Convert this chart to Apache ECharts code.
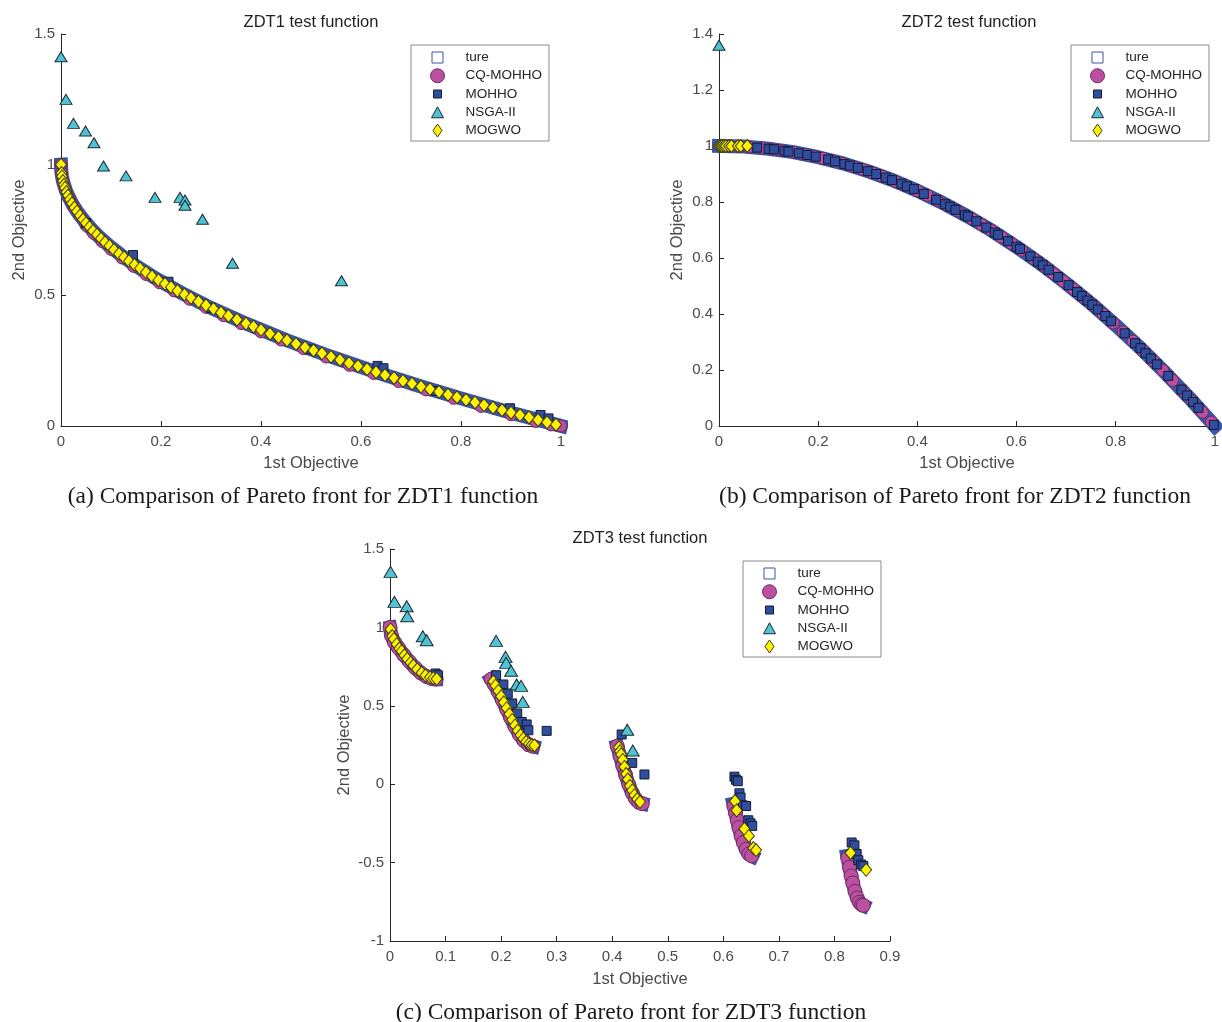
<!DOCTYPE html>
<html>
<head>
<meta charset="utf-8">
<title>Pareto fronts ZDT1 - ZDT3</title>
<script src="https://cdn.jsdelivr.net/npm/echarts/dist/echarts.min.js"></script>
<style>
  html, body { margin: 0; padding: 0; background: #fff; }
  #chart { width: 1222px; height: 1022px; }
</style>
</head>
<body>
<div id="chart"></div>
<script>
// ------------------------- data -------------------------
// ZDT1
var zdt1TureX = [0, 0.0005, 0.002, 0.005, 0.01, 0.016, 0.024, 0.034, 0.046, 0.06, 0.076, 0.095, 0.12, 0.15, 0.19, 0.24, 0.3, 0.37, 0.45, 0.54, 0.63, 0.72, 0.81, 0.9, 1];
var zdt1TureY = [1, 0.978, 0.955, 0.929, 0.9, 0.874, 0.845, 0.816, 0.786, 0.755, 0.724, 0.692, 0.654, 0.613, 0.564, 0.51, 0.452, 0.392, 0.329, 0.265, 0.206, 0.151, 0.1, 0.051, 0];

var zdt1CqX = [0, 0.001, 0.004, 0.009, 0.017, 0.027, 0.038, 0.05, 0.065, 0.082, 0.1, 0.122, 0.145, 0.17, 0.197, 0.226, 0.257, 0.29, 0.325, 0.36, 0.4, 0.44, 0.485, 0.53, 0.577, 0.625, 0.675, 0.73, 0.785, 0.84, 0.9, 0.95, 0.98, 1];
var zdt1CqY = [1, 0.968, 0.937, 0.905, 0.87, 0.836, 0.805, 0.768, 0.737, 0.706, 0.676, 0.643, 0.611, 0.58, 0.548, 0.517, 0.485, 0.454, 0.422, 0.392, 0.36, 0.329, 0.296, 0.264, 0.232, 0.201, 0.17, 0.138, 0.106, 0.075, 0.043, 0.017, 0.004, 0];

var zdt1MohhoX = [0.05, 0.144, 0.215, 0.3, 0.5, 0.633, 0.645, 0.75, 0.898, 0.959, 0.975];
var zdt1MohhoY = [0.776, 0.654, 0.552, 0.452, 0.293, 0.23, 0.221, 0.134, 0.068, 0.042, 0.029];

var zdt1NsgaX = [0, 0.01, 0.025, 0.049, 0.066, 0.085, 0.13, 0.188, 0.238, 0.248, 0.248, 0.283, 0.343, 0.561];
var zdt1NsgaY = [1.413, 1.25, 1.158, 1.129, 1.084, 0.995, 0.957, 0.875, 0.875, 0.865, 0.845, 0.791, 0.623, 0.556];

var zdt1MogwoX = [0, 0.001, 0.002, 0.004, 0.006, 0.008, 0.011, 0.014, 0.018, 0.022,
  0.027, 0.032, 0.038, 0.044, 0.05, 0.057, 0.064, 0.072, 0.08, 0.088,
  0.097, 0.106, 0.116, 0.126, 0.136, 0.147, 0.158, 0.17, 0.182, 0.195,
  0.208, 0.22, 0.233, 0.247, 0.26, 0.275, 0.29, 0.305, 0.32, 0.335,
  0.352, 0.37, 0.385, 0.4, 0.418, 0.435, 0.452, 0.47, 0.488, 0.505,
  0.522, 0.54, 0.558, 0.576, 0.594, 0.612, 0.63, 0.648, 0.666, 0.684,
  0.702, 0.72, 0.738, 0.756, 0.774, 0.792, 0.81, 0.828, 0.846, 0.864,
  0.882, 0.9, 0.918, 0.936, 0.954, 0.972, 0.99];
var zdt1MogwoY = [1, 0.968, 0.955, 0.937, 0.923, 0.911, 0.895, 0.882, 0.866, 0.852,
  0.836, 0.821, 0.805, 0.79, 0.776, 0.761, 0.747, 0.732, 0.717, 0.703,
  0.689, 0.674, 0.659, 0.645, 0.631, 0.617, 0.603, 0.588, 0.573, 0.558,
  0.544, 0.531, 0.517, 0.503, 0.49, 0.476, 0.462, 0.448, 0.434, 0.421,
  0.407, 0.392, 0.38, 0.368, 0.353, 0.34, 0.328, 0.314, 0.301, 0.289,
  0.278, 0.265, 0.253, 0.241, 0.229, 0.218, 0.206, 0.195, 0.184, 0.173,
  0.162, 0.151, 0.141, 0.131, 0.12, 0.11, 0.1, 0.09, 0.08, 0.07,
  0.061, 0.051, 0.042, 0.033, 0.023, 0.014, 0.005];

// ZDT2
var zdt2TureX = [0, 0.05, 0.1, 0.15, 0.2, 0.25, 0.3, 0.35, 0.4, 0.45, 0.5, 0.55, 0.6, 0.65, 0.7, 0.75, 0.8, 0.85, 0.9, 0.95, 1];
var zdt2TureY = [1, 0.998, 0.99, 0.978, 0.96, 0.938, 0.91, 0.878, 0.84, 0.798, 0.75, 0.698, 0.64, 0.578, 0.51, 0.438, 0.36, 0.278, 0.19, 0.098, 0];

var zdt2CqX = [0.005, 0.02, 0.04, 0.06, 0.085, 0.105, 0.125, 0.15, 0.17, 0.19,
  0.21, 0.23, 0.25, 0.27, 0.29, 0.31, 0.33, 0.355, 0.375, 0.4,
  0.42, 0.44, 0.46, 0.48, 0.51, 0.53, 0.55, 0.57, 0.59, 0.61,
  0.635, 0.655, 0.675, 0.695, 0.715, 0.735, 0.755, 0.775, 0.795, 0.815,
  0.835, 0.855, 0.875, 0.895, 0.915, 0.935, 0.955, 0.975, 0.993];
var zdt2CqY = [1, 1, 0.998, 0.996, 0.993, 0.989, 0.984, 0.978, 0.971, 0.964,
  0.956, 0.947, 0.938, 0.927, 0.916, 0.904, 0.891, 0.874, 0.859, 0.84,
  0.824, 0.806, 0.788, 0.77, 0.74, 0.719, 0.698, 0.675, 0.652, 0.628,
  0.597, 0.571, 0.544, 0.517, 0.489, 0.46, 0.43, 0.399, 0.368, 0.336,
  0.303, 0.269, 0.234, 0.199, 0.163, 0.126, 0.088, 0.049, 0.014];

var zdt2MohhoX = [0.077, 0.1, 0.111, 0.132, 0.14, 0.161, 0.178, 0.195, 0.22, 0.234,
  0.253, 0.264, 0.28, 0.3, 0.317, 0.336, 0.349, 0.368, 0.379, 0.393,
  0.413, 0.438, 0.456, 0.466, 0.477, 0.496, 0.502, 0.519, 0.539, 0.556,
  0.563, 0.583, 0.6, 0.607, 0.628, 0.643, 0.653, 0.665, 0.684, 0.705,
  0.722, 0.732, 0.743, 0.753, 0.764, 0.779, 0.791, 0.818, 0.839, 0.85,
  0.86, 0.871, 0.883, 0.906, 0.933, 0.944, 0.956, 0.967, 0.998];
var zdt2MohhoY = [0.994, 0.99, 0.988, 0.983, 0.98, 0.974, 0.968, 0.962, 0.952, 0.945,
  0.936, 0.93, 0.922, 0.91, 0.9, 0.887, 0.878, 0.865, 0.856, 0.846,
  0.829, 0.808, 0.792, 0.783, 0.772, 0.754, 0.748, 0.731, 0.709, 0.691,
  0.683, 0.66, 0.64, 0.632, 0.606, 0.587, 0.574, 0.558, 0.532, 0.503,
  0.479, 0.464, 0.448, 0.433, 0.416, 0.393, 0.374, 0.331, 0.296, 0.278,
  0.26, 0.241, 0.22, 0.179, 0.13, 0.109, 0.086, 0.065, 0.004];

var zdt2NsgaX = [0];
var zdt2NsgaY = [1.36];

var zdt2MogwoX = [0, 0.003, 0.006, 0.01, 0.014, 0.02, 0.025, 0.038, 0.044, 0.057];
var zdt2MogwoY = [1, 1, 1, 1, 1, 1, 1, 1, 1, 1];

// ZDT3 (null splits the five disconnected pieces of the true front)
var zdt3TureX = [0, 0.002, 0.005, 0.01, 0.02, 0.03, 0.04, 0.05, 0.06, 0.07, 0.08, 0.083, null,
  0.182, 0.19, 0.2, 0.21, 0.22, 0.23, 0.24, 0.25, 0.258, null,
  0.409, 0.415, 0.42, 0.425, 0.43, 0.435, 0.44, 0.445, 0.45, 0.454, null,
  0.618, 0.623, 0.628, 0.633, 0.638, 0.643, 0.648, 0.652, null,
  0.823, 0.827, 0.831, 0.835, 0.839, 0.843, 0.847, 0.852];
var zdt3TureY = [1, 0.955, 0.928, 0.897, 0.847, 0.803, 0.762, 0.726, 0.698, 0.679, 0.67, 0.67, null,
  0.669, 0.623, 0.553, 0.477, 0.402, 0.334, 0.282, 0.25, 0.242, null,
  0.243, 0.167, 0.105, 0.048, -0.004, -0.047, -0.082, -0.107, -0.121, -0.124, null,
  -0.124, -0.201, -0.276, -0.341, -0.391, -0.43, -0.452, -0.459, null,
  -0.457, -0.53, -0.599, -0.658, -0.706, -0.741, -0.764, -0.773];

var zdt3CqX = [0, 0.003, 0.008, 0.015, 0.025, 0.035, 0.045, 0.055, 0.065, 0.075, 0.083,
  0.182, 0.188, 0.195, 0.202, 0.21, 0.217, 0.225, 0.233, 0.241, 0.249, 0.257,
  0.409, 0.414, 0.419, 0.424, 0.43, 0.436, 0.442, 0.448, 0.454,
  0.619, 0.622, 0.625, 0.628, 0.632, 0.636, 0.641, 0.646, 0.651,
  0.824, 0.827, 0.83, 0.833, 0.837, 0.841, 0.845, 0.849, 0.852];
var zdt3CqY = [1, 0.945, 0.905, 0.87, 0.824, 0.782, 0.744, 0.711, 0.688, 0.674, 0.67,
  0.669, 0.635, 0.589, 0.538, 0.477, 0.425, 0.367, 0.316, 0.278, 0.252, 0.242,
  0.243, 0.18, 0.117, 0.06, -0.004, -0.055, -0.093, -0.116, -0.124,
  -0.14, -0.185, -0.23, -0.276, -0.33, -0.372, -0.415, -0.445, -0.457,
  -0.47, -0.53, -0.585, -0.63, -0.683, -0.725, -0.753, -0.768, -0.773];

var zdt3MohhoX = [0.082, 0.086,
  0.191, 0.204, 0.212, 0.22, 0.229, 0.237, 0.246, 0.249, 0.282,
  0.417, 0.436, 0.458,
  0.62, 0.623, 0.626, 0.629, 0.631, 0.635, 0.641, 0.645, 0.649, 0.652,
  0.831, 0.836, 0.84, 0.843, 0.848, 0.852];
var zdt3MohhoY = [0.706, 0.695,
  0.695, 0.636, 0.578, 0.515, 0.451, 0.397, 0.381, 0.344, 0.34,
  0.317, 0.136, 0.062,
  0.048, 0.028, 0.019, -0.058, -0.085, -0.135, -0.139, -0.23, -0.25, -0.266,
  -0.372, -0.39, -0.445, -0.485, -0.512, -0.522];

var zdt3NsgaX = [0.001, 0.008, 0.03, 0.031, 0.059, 0.066, 0.191, 0.208, 0.209, 0.218, 0.228, 0.236, 0.239, 0.427, 0.437];
var zdt3NsgaY = [1.354, 1.163, 1.135, 1.071, 0.944, 0.918, 0.914, 0.812, 0.774, 0.723, 0.636, 0.627, 0.525, 0.347, 0.215];

var zdt3MogwoX = [0.001, 0.004, 0.007, 0.012, 0.017, 0.021, 0.026, 0.031, 0.037, 0.042, 0.049, 0.057, 0.064, 0.072, 0.078, 0.084,
  0.186, 0.19, 0.195, 0.2, 0.205, 0.21, 0.215, 0.22, 0.225, 0.23, 0.235, 0.24, 0.245, 0.25, 0.255, 0.26,
  0.412, 0.414, 0.416, 0.419, 0.422, 0.425, 0.428, 0.432, 0.436, 0.44, 0.445, 0.45,
  0.621, 0.624, 0.638, 0.646, 0.654, 0.659,
  0.829, 0.857];
var zdt3MogwoY = [0.987, 0.945, 0.925, 0.893, 0.865, 0.848, 0.822, 0.8, 0.775, 0.757, 0.733, 0.71, 0.694, 0.682, 0.676, 0.672,
  0.655, 0.628, 0.595, 0.56, 0.522, 0.485, 0.447, 0.41, 0.375, 0.342, 0.313, 0.29, 0.27, 0.257, 0.25, 0.247,
  0.235, 0.21, 0.19, 0.155, 0.11, 0.065, 0.03, -0.01, -0.04, -0.07, -0.095, -0.112,
  -0.108, -0.167, -0.285, -0.33, -0.407, -0.42,
  -0.438, -0.546];

var seriesNames = ['ture', 'CQ-MOHHO', 'MOHHO', 'NSGA-II', 'MOGWO'];
var plotTitles = ['ZDT1 test function', 'ZDT2 test function', 'ZDT3 test function'];
var captions = [
  '(a) Comparison of Pareto front for ZDT1 function',
  '(b) Comparison of Pareto front for ZDT2 function',
  '(c) Comparison of Pareto front for ZDT3 function'
];

// ------------------------------- styling ------------------------------------
var SANS = "'Liberation Sans', Arial, sans-serif";
var SERIF = "'Liberation Serif', 'Times New Roman', serif";
var AXIS = '#262626';
var LABEL = '#4a4a4a';
var COLOR = {
  ture   : '#3a55a6',
  cq     : '#bb4fa0', cqEdge    : '#6e2a62',
  mohho  : '#2f4e9f', mohhoEdge : '#151a30',
  nsga   : '#4fc2d4', nsgaEdge  : '#1b2b30',
  mogwo  : '#fff200', mogwoEdge : '#3a3a1a'
};

// ------------------------------- helpers ------------------------------------
function zip(xs, ys) {
  return xs.map(function (x, i) {
    return x === null ? ['-', '-'] : [x, ys[i]];
  });
}

// the true front is so dense in the figure that it reads as a thick band,
// so it is drawn as one wide line under all the markers
function tureSeries(g, xs, ys) {
  return {
    name: 'ture', type: 'line', xAxisIndex: g, yAxisIndex: g, z: 1,
    data: zip(xs, ys), symbol: 'none', showSymbol: false,
    connectNulls: false, clip: false, silent: true,
    lineStyle: { color: COLOR.ture, width: 14, cap: 'square', join: 'round' },
    itemStyle: { color: COLOR.ture }
  };
}

function dotSeries(name, g, xs, ys, symbol, size, fill, edge) {
  return {
    name: name, type: 'scatter', xAxisIndex: g, yAxisIndex: g, z: 3,
    data: zip(xs, ys), symbol: symbol, symbolSize: size,
    clip: false, silent: true,
    itemStyle: { color: fill, borderColor: edge, borderWidth: 1, opacity: 1 }
  };
}

function xAxisFor(g, max, interval, gap) {
  return {
    type: 'value', gridIndex: g, min: 0, max: max, interval: interval,
    name: '1st Objective', nameLocation: 'middle', nameGap: gap,
    nameTextStyle: { color: LABEL, fontSize: 16.5, fontFamily: SANS },
    axisLine: { show: true, onZero: false, lineStyle: { color: AXIS, width: 1 } },
    axisTick: { show: true, inside: true, length: 5, lineStyle: { color: AXIS } },
    axisLabel: { show: true, margin: 8, color: LABEL, fontSize: 15, fontFamily: SANS },
    splitLine: { show: false }
  };
}

function yAxisFor(g, min, max, interval, gap) {
  return {
    type: 'value', gridIndex: g, min: min, max: max, interval: interval,
    name: '2nd Objective', nameLocation: 'middle', nameGap: gap,
    nameTextStyle: { color: LABEL, fontSize: 16.5, fontFamily: SANS },
    axisLine: { show: true, onZero: false, lineStyle: { color: AXIS, width: 1 } },
    axisTick: { show: true, inside: true, length: 5, lineStyle: { color: AXIS } },
    axisLabel: { show: true, margin: 6, color: LABEL, fontSize: 15, fontFamily: SANS },
    splitLine: { show: false }
  };
}

var legendItems = [
  { name: seriesNames[0], icon: 'path://M0 0M14 14M1.5 1.5H12.5V12.5H1.5Z',
    itemStyle: { color: '#fff', borderColor: COLOR.ture, borderWidth: 1 } },
  { name: seriesNames[1], icon: 'circle',
    itemStyle: { color: COLOR.cq, borderColor: COLOR.cqEdge, borderWidth: 1 } },
  { name: seriesNames[2], icon: 'path://M0 0M14 14M3 3H11V11H3Z',
    itemStyle: { color: COLOR.mohho, borderColor: COLOR.mohhoEdge, borderWidth: 1 } },
  { name: seriesNames[3], icon: 'path://M0 0M14 14M7 1.5L13 12.5H1Z',
    itemStyle: { color: COLOR.nsga, borderColor: COLOR.nsgaEdge, borderWidth: 1 } },
  { name: seriesNames[4], icon: 'path://M0 0M14 14M7 0.5L11.5 7L7 13.5L2.5 7Z',
    itemStyle: { color: COLOR.mogwo, borderColor: COLOR.mogwoEdge, borderWidth: 1 } }
];

function legendAt(left, top) {
  return {
    show: true, orient: 'vertical', left: left, top: top,
    padding: [5, 7, 3, 19], itemWidth: 14, itemHeight: 14, itemGap: 3.25,
    backgroundColor: '#fff', borderColor: '#8a8a8a', borderWidth: 1, borderRadius: 0,
    selectedMode: false,
    textStyle: { fontSize: 13.5, fontFamily: SANS, color: '#262626', lineHeight: 14, padding: [0, 0, 0, 16] },
    data: legendItems
  };
}

function titleAt(text, cx, top, style) {
  return { text: text, left: cx, top: top, textAlign: 'center', padding: 0, textStyle: style };
}

// ------------------------------- option -------------------------------------
var titleText = { color: '#1f1f1f', fontSize: 16.5, fontWeight: 'normal', fontFamily: SANS };
var captionText = { color: '#1a1a1a', fontSize: 23.5, fontWeight: 'normal', fontFamily: SERIF };

var option = {
  animation: false,
  backgroundColor: '#fff',
  title: [
    titleAt(plotTitles[0], 311, 14, titleText),
    titleAt(plotTitles[1], 969, 14, titleText),
    titleAt(plotTitles[2], 640, 530, titleText),
    titleAt(captions[0], 303, 485, captionText),
    titleAt(captions[1], 955, 485, captionText),
    titleAt(captions[2], 631, 1001, captionText)
  ],
  legend: [legendAt(411, 45), legendAt(1071, 45), legendAt(743, 561)],
  grid: [
    { left: 61, top: 34, width: 500, height: 392 },
    { left: 719, top: 34, width: 500, height: 392 },
    { left: 390, top: 549, width: 500, height: 392 }
  ],
  xAxis: [xAxisFor(0, 1, 0.2, 29), xAxisFor(1, 1, 0.2, 29), xAxisFor(2, 0.9, 0.1, 30)],
  yAxis: [yAxisFor(0, 0, 1.5, 0.5, 33), yAxisFor(1, 0, 1.4, 0.2, 33), yAxisFor(2, -1, 1.5, 0.5, 37)],
  series: [
    tureSeries(0, zdt1TureX, zdt1TureY),
    dotSeries(seriesNames[1], 0, zdt1CqX, zdt1CqY, 'circle', 12, COLOR.cq, COLOR.cqEdge),
    dotSeries(seriesNames[2], 0, zdt1MohhoX, zdt1MohhoY, 'rect', 9, COLOR.mohho, COLOR.mohhoEdge),
    dotSeries(seriesNames[3], 0, zdt1NsgaX, zdt1NsgaY, 'triangle', [12, 10], COLOR.nsga, COLOR.nsgaEdge),
    dotSeries(seriesNames[4], 0, zdt1MogwoX, zdt1MogwoY, 'diamond', [11, 13], COLOR.mogwo, COLOR.mogwoEdge),

    tureSeries(1, zdt2TureX, zdt2TureY),
    dotSeries(seriesNames[1], 1, zdt2CqX, zdt2CqY, 'circle', 12, COLOR.cq, COLOR.cqEdge),
    dotSeries(seriesNames[2], 1, zdt2MohhoX, zdt2MohhoY, 'rect', 9, COLOR.mohho, COLOR.mohhoEdge),
    dotSeries(seriesNames[3], 1, zdt2NsgaX, zdt2NsgaY, 'triangle', [12, 10], COLOR.nsga, COLOR.nsgaEdge),
    dotSeries(seriesNames[4], 1, zdt2MogwoX, zdt2MogwoY, 'diamond', [11, 13], COLOR.mogwo, COLOR.mogwoEdge),

    tureSeries(2, zdt3TureX, zdt3TureY),
    dotSeries(seriesNames[1], 2, zdt3CqX, zdt3CqY, 'circle', 14, COLOR.cq, COLOR.cqEdge),
    dotSeries(seriesNames[2], 2, zdt3MohhoX, zdt3MohhoY, 'rect', 9, COLOR.mohho, COLOR.mohhoEdge),
    dotSeries(seriesNames[3], 2, zdt3NsgaX, zdt3NsgaY, 'triangle', [13, 11], COLOR.nsga, COLOR.nsgaEdge),
    dotSeries(seriesNames[4], 2, zdt3MogwoX, zdt3MogwoY, 'diamond', [11, 13], COLOR.mogwo, COLOR.mogwoEdge)
  ]
};

var chart = echarts.init(document.getElementById('chart'), null, { renderer: 'canvas' });
chart.setOption(option);
</script>
</body>
</html>
